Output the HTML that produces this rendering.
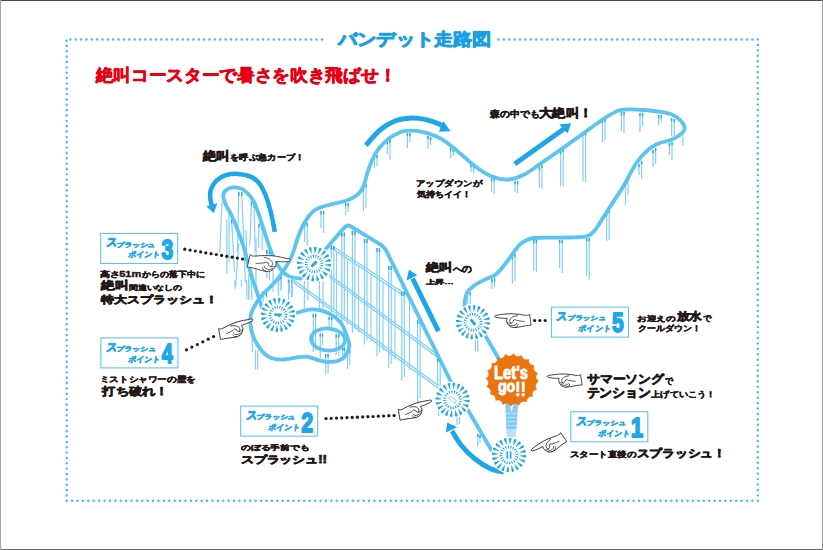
<!DOCTYPE html>
<html lang="ja"><head><meta charset="utf-8"><title>バンデット走路図</title>
<style>html,body{margin:0;padding:0;background:#fff}body{width:823px;height:550px;overflow:hidden;font-family:"Liberation Sans",sans-serif}svg{display:block}text{font-family:"Liberation Sans",sans-serif}</style></head><body>
<svg width="823" height="550" viewBox="0 0 823 550">
<rect width="823" height="550" fill="#fff"/>
<path d="M0 0.5H823" stroke="#4a4a4a" stroke-width="1.2"/><path d="M0 549.5H823" stroke="#666" stroke-width="1.2"/><path d="M0.5 0V550" stroke="#a8a8a8" stroke-width="1.1"/><path d="M822.5 0V550" stroke="#9a9a9a" stroke-width="1.1"/>
<g fill="none" stroke="#41b6ec" stroke-width="2.4" stroke-linecap="round"><path d="M70.40 39.50L322.20 39.50" stroke-dasharray="0 5.3511"/><path d="M498.40 39.50L758.10 39.50" stroke-dasharray="0 5.4042"/><path d="M757.80 44.90L757.80 501.10" stroke-dasharray="0 5.4274"/><path d="M752.40 500.80L66.40 500.80" stroke-dasharray="0 5.3992"/><path d="M66.70 40.60L66.70 495.70" stroke-dasharray="0 5.3506"/></g>
<path d="M304.6 224.0V242.0M307.2 223.0V246.0" stroke="#86d0f6" stroke-width="1.2" fill="none"/>
<path d="M304.6 224.0v3.2M307.2 223.0v3.2" stroke="#2fa9e6" stroke-width="1.4" fill="none"/>
<path d="M321.0 211.0V228.0M323.6 211.0V233.0" stroke="#86d0f6" stroke-width="1.2" fill="none"/>
<path d="M321.0 211.0v3.2M323.6 211.0v3.2" stroke="#2fa9e6" stroke-width="1.4" fill="none"/>
<path d="M345.6 203.0V215.0M348.2 203.0V212.0" stroke="#86d0f6" stroke-width="1.2" fill="none"/>
<path d="M345.6 203.0v3.2M348.2 203.0v3.2" stroke="#2fa9e6" stroke-width="1.4" fill="none"/>
<path d="M363.4 188.0V211.0M366.0 184.0V208.0" stroke="#86d0f6" stroke-width="1.2" fill="none"/>
<path d="M363.4 188.0v3.2M366.0 184.0v3.2" stroke="#2fa9e6" stroke-width="1.4" fill="none"/>
<path d="M374.4 156.0V168.0M377.0 155.0V166.0" stroke="#86d0f6" stroke-width="1.2" fill="none"/>
<path d="M374.4 156.0v3.2M377.0 155.0v3.2" stroke="#2fa9e6" stroke-width="1.4" fill="none"/>
<path d="M387.4 141.0V154.0M390.0 140.0V160.0" stroke="#86d0f6" stroke-width="1.2" fill="none"/>
<path d="M387.4 141.0v3.2M390.0 140.0v3.2" stroke="#2fa9e6" stroke-width="1.4" fill="none"/>
<path d="M407.4 133.0V148.0M410.0 133.0V142.0" stroke="#86d0f6" stroke-width="1.2" fill="none"/>
<path d="M407.4 133.0v3.2M410.0 133.0v3.2" stroke="#2fa9e6" stroke-width="1.4" fill="none"/>
<path d="M428.0 136.0V149.0M430.6 137.0V145.0" stroke="#86d0f6" stroke-width="1.2" fill="none"/>
<path d="M428.0 136.0v3.2M430.6 137.0v3.2" stroke="#2fa9e6" stroke-width="1.4" fill="none"/>
<path d="M450.6 148.0V158.0M453.2 149.0V156.0" stroke="#86d0f6" stroke-width="1.2" fill="none"/>
<path d="M450.6 148.0v3.2M453.2 149.0v3.2" stroke="#2fa9e6" stroke-width="1.4" fill="none"/>
<path d="M471.0 164.0V172.0M473.6 165.0V174.0" stroke="#86d0f6" stroke-width="1.2" fill="none"/>
<path d="M471.0 164.0v3.2M473.6 165.0v3.2" stroke="#2fa9e6" stroke-width="1.4" fill="none"/>
<path d="M491.6 178.0V192.0M494.2 178.0V194.0" stroke="#86d0f6" stroke-width="1.2" fill="none"/>
<path d="M491.6 178.0v3.2M494.2 178.0v3.2" stroke="#2fa9e6" stroke-width="1.4" fill="none"/>
<path d="M515.0 181.0V192.0M517.6 181.0V193.0" stroke="#86d0f6" stroke-width="1.2" fill="none"/>
<path d="M515.0 181.0v3.2M517.6 181.0v3.2" stroke="#2fa9e6" stroke-width="1.4" fill="none"/>
<path d="M539.4 167.0V188.0M542.0 165.0V189.0" stroke="#86d0f6" stroke-width="1.2" fill="none"/>
<path d="M539.4 167.0v3.2M542.0 165.0v3.2" stroke="#2fa9e6" stroke-width="1.4" fill="none"/>
<path d="M560.6 151.0V186.0M563.2 149.0V186.6" stroke="#86d0f6" stroke-width="1.2" fill="none"/>
<path d="M560.6 151.0v3.2M563.2 149.0v3.2" stroke="#2fa9e6" stroke-width="1.4" fill="none"/>
<path d="M583.0 133.0V181.4M585.6 132.0V182.0" stroke="#86d0f6" stroke-width="1.2" fill="none"/>
<path d="M583.0 133.0v3.2M585.6 132.0v3.2" stroke="#2fa9e6" stroke-width="1.4" fill="none"/>
<path d="M602.4 120.0V142.0M605.0 119.0V140.0" stroke="#86d0f6" stroke-width="1.2" fill="none"/>
<path d="M602.4 120.0v3.2M605.0 119.0v3.2" stroke="#2fa9e6" stroke-width="1.4" fill="none"/>
<path d="M621.4 112.0V131.0M624.0 112.0V133.0" stroke="#86d0f6" stroke-width="1.2" fill="none"/>
<path d="M621.4 112.0v3.2M624.0 112.0v3.2" stroke="#2fa9e6" stroke-width="1.4" fill="none"/>
<path d="M640.0 113.0V132.0M642.6 113.0V126.0" stroke="#86d0f6" stroke-width="1.2" fill="none"/>
<path d="M640.0 113.0v3.2M642.6 113.0v3.2" stroke="#2fa9e6" stroke-width="1.4" fill="none"/>
<path d="M658.6 115.0V125.0M661.2 115.0V122.0" stroke="#86d0f6" stroke-width="1.2" fill="none"/>
<path d="M658.6 115.0v3.2M661.2 115.0v3.2" stroke="#2fa9e6" stroke-width="1.4" fill="none"/>
<path d="M671.6 118.0V136.0M674.2 119.0V136.0" stroke="#86d0f6" stroke-width="1.2" fill="none"/>
<path d="M671.6 118.0v3.2M674.2 119.0v3.2" stroke="#2fa9e6" stroke-width="1.4" fill="none"/>
<path d="M669.4 143.0V155.0M672.0 142.0V160.0" stroke="#86d0f6" stroke-width="1.2" fill="none"/>
<path d="M669.4 143.0v3.2M672.0 142.0v3.2" stroke="#2fa9e6" stroke-width="1.4" fill="none"/>
<path d="M653.0 150.0V167.0M655.6 148.0V164.0" stroke="#86d0f6" stroke-width="1.2" fill="none"/>
<path d="M653.0 150.0v3.2M655.6 148.0v3.2" stroke="#2fa9e6" stroke-width="1.4" fill="none"/>
<path d="M639.0 164.0V175.0M641.6 161.0V179.0" stroke="#86d0f6" stroke-width="1.2" fill="none"/>
<path d="M639.0 164.0v3.2M641.6 161.0v3.2" stroke="#2fa9e6" stroke-width="1.4" fill="none"/>
<path d="M625.4 181.0V205.0M628.0 178.0V195.0" stroke="#86d0f6" stroke-width="1.2" fill="none"/>
<path d="M625.4 181.0v3.2M628.0 178.0v3.2" stroke="#2fa9e6" stroke-width="1.4" fill="none"/>
<path d="M606.6 213.0V241.0M609.2 210.0V240.0" stroke="#86d0f6" stroke-width="1.2" fill="none"/>
<path d="M606.6 213.0v3.2M609.2 210.0v3.2" stroke="#2fa9e6" stroke-width="1.4" fill="none"/>
<path d="M586.6 238.0V276.0M589.2 238.0V280.0" stroke="#86d0f6" stroke-width="1.2" fill="none"/>
<path d="M586.6 238.0v3.2M589.2 238.0v3.2" stroke="#2fa9e6" stroke-width="1.4" fill="none"/>
<path d="M559.6 240.0V268.0M562.2 240.0V273.0" stroke="#86d0f6" stroke-width="1.2" fill="none"/>
<path d="M559.6 240.0v3.2M562.2 240.0v3.2" stroke="#2fa9e6" stroke-width="1.4" fill="none"/>
<path d="M533.8 240.0V271.0M536.4 240.0V272.0" stroke="#86d0f6" stroke-width="1.2" fill="none"/>
<path d="M533.8 240.0v3.2M536.4 240.0v3.2" stroke="#2fa9e6" stroke-width="1.4" fill="none"/>
<path d="M512.4 256.0V283.0M515.0 254.0V281.0" stroke="#86d0f6" stroke-width="1.2" fill="none"/>
<path d="M512.4 256.0v3.2M515.0 254.0v3.2" stroke="#2fa9e6" stroke-width="1.4" fill="none"/>
<path d="M492.0 279.0V289.0M494.6 278.0V287.0" stroke="#86d0f6" stroke-width="1.2" fill="none"/>
<path d="M492.0 279.0v3.2M494.6 278.0v3.2" stroke="#2fa9e6" stroke-width="1.4" fill="none"/>
<path d="M467.6 290.0V304.0M470.2 292.0V304.0" stroke="#86d0f6" stroke-width="1.2" fill="none"/>
<path d="M467.6 290.0v3.2M470.2 292.0v3.2" stroke="#2fa9e6" stroke-width="1.4" fill="none"/>
<path d="M683.0 135.0L683.0 146.0" stroke="#86d0f6" stroke-width="1.2" fill="none"/>
<path d="M222.0 201.8L219.8 252.0" stroke="#86d0f6" stroke-width="1.2" fill="none"/>
<path d="M226.8 219.3L226.8 273.9" stroke="#86d0f6" stroke-width="1.2" fill="none"/>
<path d="M231.6 219.3L234.5 271.7" stroke="#86d0f6" stroke-width="1.2" fill="none"/>
<path d="M238.8 192.0L237.3 252.0" stroke="#86d0f6" stroke-width="1.2" fill="none"/>
<path d="M241.7 192.0L245.4 282.6" stroke="#86d0f6" stroke-width="1.2" fill="none"/>
<path d="M238.8 243.3L235.6 287.0" stroke="#86d0f6" stroke-width="1.2" fill="none"/>
<path d="M251.5 201.8L249.8 245.5" stroke="#86d0f6" stroke-width="1.2" fill="none"/>
<path d="M254.1 204.0L255.2 252.0" stroke="#86d0f6" stroke-width="1.2" fill="none"/>
<path d="M259.1 223.7L258.5 247.7" stroke="#86d0f6" stroke-width="1.2" fill="none"/>
<path d="M262.2 225.9L262.2 249.9" stroke="#86d0f6" stroke-width="1.2" fill="none"/>
<path d="M266.8 249.9L266.8 278.3" stroke="#86d0f6" stroke-width="1.2" fill="none"/>
<path d="M269.4 249.9L269.4 280.4" stroke="#86d0f6" stroke-width="1.2" fill="none"/>
<path d="M248.7 273.9L248.7 300.0" stroke="#86d0f6" stroke-width="1.2" fill="none"/>
<path d="M250.9 276.0L251.9 300.0" stroke="#86d0f6" stroke-width="1.2" fill="none"/>
<path d="M229.0 210.0L229.0 262.0" stroke="#86d0f6" stroke-width="1.2" fill="none"/>
<path d="M246.0 230.0L247.0 268.0" stroke="#86d0f6" stroke-width="1.2" fill="none"/>
<path d="M256.0 238.0L256.0 286.0" stroke="#86d0f6" stroke-width="1.2" fill="none"/>
<path d="M273.0 262.0L273.0 292.0" stroke="#86d0f6" stroke-width="1.2" fill="none"/>
<path d="M231.6 219.3L231.6 223.3" stroke="#2fa9e6" stroke-width="1.4" fill="none"/>
<path d="M238.8 192.0L238.8 196.0" stroke="#2fa9e6" stroke-width="1.4" fill="none"/>
<path d="M241.7 192.0L241.7 196.0" stroke="#2fa9e6" stroke-width="1.4" fill="none"/>
<path d="M251.5 201.8L251.5 205.8" stroke="#2fa9e6" stroke-width="1.4" fill="none"/>
<path d="M254.1 204.0L254.1 208.0" stroke="#2fa9e6" stroke-width="1.4" fill="none"/>
<path d="M259.1 223.7L259.1 227.7" stroke="#2fa9e6" stroke-width="1.4" fill="none"/>
<path d="M262.2 225.9L262.2 229.9" stroke="#2fa9e6" stroke-width="1.4" fill="none"/>
<path d="M266.8 249.9L266.8 253.9" stroke="#2fa9e6" stroke-width="1.4" fill="none"/>
<path d="M269.4 249.9L269.4 253.9" stroke="#2fa9e6" stroke-width="1.4" fill="none"/>
<path d="M278.6 278.0V295.5M281.0 276.6V289.7" stroke="#86d0f6" stroke-width="1.2" fill="none"/>
<path d="M278.6 278.0v3.2M281.0 276.6v3.2" stroke="#2fa9e6" stroke-width="1.4" fill="none"/>
<path d="M288.5 279.5V300.0M291.7 279.5V297.0" stroke="#86d0f6" stroke-width="1.2" fill="none"/>
<path d="M288.5 279.5v3.2M291.7 279.5v3.2" stroke="#2fa9e6" stroke-width="1.4" fill="none"/>
<path d="M304.4 281.0V308.6M307.8 281.0V300.6" stroke="#86d0f6" stroke-width="1.2" fill="none"/>
<path d="M319.4 281.0V308.6M323.0 281.0V308.6" stroke="#86d0f6" stroke-width="1.2" fill="none"/>
<path d="M252.3 325.8V352.0M255.5 349.8V369.4" stroke="#86d0f6" stroke-width="1.2" fill="none"/>
<path d="M257.7 349.8L257.7 369.4" stroke="#86d0f6" stroke-width="1.2" fill="none"/>
<path d="M313.3 313.8V352.0M315.6 313.8V350.0" stroke="#86d0f6" stroke-width="1.2" fill="none"/>
<path d="M313.3 313.8v3.2M315.6 313.8v3.2" stroke="#2fa9e6" stroke-width="1.4" fill="none"/>
<path d="M329.2 317.0V327.0M331.8 317.0V327.0" stroke="#86d0f6" stroke-width="1.2" fill="none"/>
<path d="M329.2 317.0v3.2M331.8 317.0v3.2" stroke="#2fa9e6" stroke-width="1.4" fill="none"/>
<path d="M320.3 333.4V357.4M322.5 333.4V345.4" stroke="#86d0f6" stroke-width="1.2" fill="none"/>
<path d="M320.3 333.4v3.2M322.5 333.4v3.2" stroke="#2fa9e6" stroke-width="1.4" fill="none"/>
<path d="M336.2 334.5V355.0M338.8 334.5V356.0" stroke="#86d0f6" stroke-width="1.2" fill="none"/>
<path d="M336.2 334.5v3.2M338.8 334.5v3.2" stroke="#2fa9e6" stroke-width="1.4" fill="none"/>
<path d="M325.7 354.0V373.8M328.1 354.0V373.8" stroke="#86d0f6" stroke-width="1.2" fill="none"/>
<path d="M325.7 354.0v3.2M328.1 354.0v3.2" stroke="#2fa9e6" stroke-width="1.4" fill="none"/>
<path d="M342.7 347.6V356.0M344.5 347.6V355.0" stroke="#86d0f6" stroke-width="1.2" fill="none"/>
<path d="M342.7 347.6v3.2M344.5 347.6v3.2" stroke="#2fa9e6" stroke-width="1.4" fill="none"/>
<path d="M347.5 352.0V369.0M349.7 349.8V365.0" stroke="#86d0f6" stroke-width="1.2" fill="none"/>
<path d="M347.5 352.0v3.2M349.7 349.8v3.2" stroke="#2fa9e6" stroke-width="1.4" fill="none"/>
<path d="M234.8 280.0V288.7M241.3 280.0V286.5" stroke="#86d0f6" stroke-width="1.2" fill="none"/>
<path d="M246.8 280.0V299.6M248.8 280.0V299.6" stroke="#86d0f6" stroke-width="1.2" fill="none"/>
<path d="M263.2 291.0V301.8M266.4 293.0V298.5" stroke="#86d0f6" stroke-width="1.2" fill="none"/>
<path d="M263.2 291.0v3.2M266.4 293.0v3.2" stroke="#2fa9e6" stroke-width="1.4" fill="none"/>
<path d="M278.4 280.0V296.4M281.2 280.0V291.0" stroke="#86d0f6" stroke-width="1.2" fill="none"/>
<path d="M289.4 280.0V293.0M292.2 280.0V297.4" stroke="#86d0f6" stroke-width="1.2" fill="none"/>
<path d="M331.3 245.3L405.5 294.3M331.3 247.9L405.5 296.9" stroke="#7ccdf5" stroke-width="1.2" fill="none"/>
<path d="M329.0 274.4L438.0 355.1M329.0 277.0L438.0 357.7" stroke="#7ccdf5" stroke-width="1.2" fill="none"/>
<path d="M293.0 279.5L439.0 386.1M293.0 282.1L439.0 388.7" stroke="#7ccdf5" stroke-width="1.2" fill="none"/>
<path d="M331.3 246.0V312.3M333.8 246.0V308.3" stroke="#86d0f6" stroke-width="1.2" fill="none"/>
<path d="M331.3 246.0v4.0M333.8 246.0v4.0" stroke="#2fa9e6" stroke-width="1.4" fill="none"/>
<path d="M341.8 232.5V322.5M344.3 232.5V318.5" stroke="#86d0f6" stroke-width="1.2" fill="none"/>
<path d="M341.8 232.5v4.0M344.3 232.5v4.0" stroke="#2fa9e6" stroke-width="1.4" fill="none"/>
<path d="M352.4 230.7V332.8M354.9 230.7V328.8" stroke="#86d0f6" stroke-width="1.2" fill="none"/>
<path d="M352.4 230.7v4.0M354.9 230.7v4.0" stroke="#2fa9e6" stroke-width="1.4" fill="none"/>
<path d="M364.5 239.0V344.5M367.0 239.0V340.5" stroke="#86d0f6" stroke-width="1.2" fill="none"/>
<path d="M364.5 239.0v4.0M367.0 239.0v4.0" stroke="#2fa9e6" stroke-width="1.4" fill="none"/>
<path d="M377.0 248.0V356.6M379.5 248.0V352.6" stroke="#86d0f6" stroke-width="1.2" fill="none"/>
<path d="M377.0 248.0v4.0M379.5 248.0v4.0" stroke="#2fa9e6" stroke-width="1.4" fill="none"/>
<path d="M388.7 266.0V368.0M391.2 266.0V364.0" stroke="#86d0f6" stroke-width="1.2" fill="none"/>
<path d="M388.7 266.0v4.0M391.2 266.0v4.0" stroke="#2fa9e6" stroke-width="1.4" fill="none"/>
<path d="M401.8 291.6V380.7M404.3 291.6V376.7" stroke="#86d0f6" stroke-width="1.2" fill="none"/>
<path d="M401.8 291.6v4.0M404.3 291.6v4.0" stroke="#2fa9e6" stroke-width="1.4" fill="none"/>
<path d="M417.6 320.0V402.0M420.1 320.0V398.0" stroke="#86d0f6" stroke-width="1.2" fill="none"/>
<path d="M417.6 320.0v4.0M420.1 320.0v4.0" stroke="#2fa9e6" stroke-width="1.4" fill="none"/>
<path d="M336.5 250.7L336.5 316.2" stroke="#86d0f6" stroke-width="1.2" fill="none"/>
<path d="M347.5 258.0L347.5 324.4" stroke="#86d0f6" stroke-width="1.2" fill="none"/>
<path d="M358.5 265.3L358.5 332.5" stroke="#86d0f6" stroke-width="1.2" fill="none"/>
<path d="M371.0 273.5L371.0 341.7" stroke="#86d0f6" stroke-width="1.2" fill="none"/>
<path d="M383.0 281.4L383.0 350.6" stroke="#86d0f6" stroke-width="1.2" fill="none"/>
<path d="M395.0 289.3L395.0 359.5" stroke="#86d0f6" stroke-width="1.2" fill="none"/>
<path d="M409.5 298.9L409.5 370.2" stroke="#86d0f6" stroke-width="1.2" fill="none"/>
<path d="M437.6 358.0V386.0M440.2 358.0V386.0" stroke="#86d0f6" stroke-width="1.2" fill="none"/>
<path d="M437.6 358.0v4.0M440.2 358.0v4.0" stroke="#2fa9e6" stroke-width="1.4" fill="none"/>
<path d="M457.0 418.0V425.0M459.4 417.0V424.0" stroke="#86d0f6" stroke-width="1.2" fill="none"/>
<path d="M438.6 409.0L438.6 416.0" stroke="#86d0f6" stroke-width="1.2" fill="none"/>
<path d="M477.8 434.0V446.0M480.0 435.0V443.0" stroke="#86d0f6" stroke-width="1.2" fill="none"/>
<path d="M477.8 434.0v3.0M480.0 435.0v3.0" stroke="#2fa9e6" stroke-width="1.4" fill="none"/>
<path d="M475.4 340.0V351.5M477.8 340.0V351.5" stroke="#86d0f6" stroke-width="1.2" fill="none"/>
<path d="M297.0 357.4C294.4 357.8 286.2 359.6 281.7 359.6C277.1 359.6 273.1 359.0 269.7 357.4C266.2 355.8 263.7 353.2 261.0 349.8C258.3 346.4 255.1 341.4 253.3 336.7C251.5 332.0 250.3 325.8 250.1 321.4C249.9 317.0 250.5 314.7 252.3 310.5C254.1 306.3 257.4 300.9 261.0 296.4C264.6 291.9 270.2 287.7 274.0 283.3C277.8 278.9 281.0 274.6 284.0 270.0C287.0 265.4 289.6 261.0 291.8 256.0C294.0 251.0 295.5 244.2 297.0 240.0C298.5 235.8 299.3 233.5 300.6 230.5C301.9 227.5 303.5 224.6 305.0 222.0C306.5 219.4 307.8 217.2 309.5 215.2C311.2 213.2 313.0 211.4 315.0 210.0C317.0 208.6 319.2 207.8 321.5 207.0C323.8 206.2 325.1 206.0 329.0 205.0C332.9 204.0 341.2 202.1 345.0 201.0C348.8 199.9 350.0 199.3 352.0 198.3C354.0 197.3 355.6 196.1 357.0 195.0C358.4 193.9 359.5 192.8 360.5 191.5C361.5 190.2 362.2 188.8 363.0 187.0C363.8 185.2 364.5 183.2 365.2 181.0C365.9 178.8 366.2 176.5 367.0 174.0C367.8 171.5 368.8 168.7 369.8 166.0C370.8 163.3 371.9 160.4 373.0 158.0C374.1 155.6 375.4 153.5 376.7 151.5C378.0 149.5 379.5 147.7 381.0 146.0C382.5 144.3 384.0 142.7 385.7 141.2C387.4 139.7 389.0 138.3 391.0 137.0C393.0 135.7 395.3 134.4 397.7 133.4C400.1 132.4 401.4 131.2 405.4 130.9C409.4 130.6 415.9 130.5 421.8 131.8C427.7 133.1 435.0 135.4 440.9 138.6C446.8 141.8 451.3 146.1 457.2 150.9C463.1 155.7 470.4 162.9 476.3 167.2C482.2 171.5 487.2 174.8 492.7 176.8C498.1 178.9 503.6 180.0 509.0 179.5C514.5 179.0 519.9 176.8 525.4 174.0C530.9 171.2 535.6 167.0 541.7 162.8C547.8 158.6 554.8 153.8 561.8 148.9C568.8 144.0 576.8 138.1 583.6 133.2C590.4 128.3 597.2 123.1 602.7 119.5C608.2 115.9 612.8 113.1 616.3 111.4C619.8 109.8 619.5 109.8 624.0 109.6C628.5 109.4 636.7 109.5 643.6 110.0C650.5 110.5 660.0 111.6 665.4 112.7C670.8 113.8 673.3 115.0 676.3 116.8C679.2 118.6 681.7 121.6 683.1 123.6C684.5 125.6 685.0 127.2 684.5 129.0C684.0 130.8 682.7 132.7 680.4 134.5C678.1 136.3 674.8 138.4 670.9 140.0C667.0 141.6 661.3 142.1 657.2 144.0C653.1 145.9 649.9 148.0 646.3 151.4C642.7 154.8 639.0 159.0 635.4 164.5C631.8 170.0 627.7 179.0 624.5 184.5C621.3 190.0 618.8 193.3 616.0 197.6C613.2 201.8 610.7 205.8 608.0 210.0C605.3 214.2 601.9 219.6 600.0 222.6C598.1 225.6 597.6 226.4 596.5 228.0C595.4 229.6 594.4 230.9 593.3 232.0C592.2 233.1 591.3 234.1 590.0 234.8C588.7 235.6 587.2 236.1 585.5 236.5C583.8 236.9 582.6 237.0 580.0 237.2C577.4 237.4 573.3 237.4 570.0 237.5C566.7 237.6 564.2 237.6 560.0 237.6C555.8 237.6 549.3 237.6 545.0 237.7C540.7 237.8 537.0 237.6 534.0 238.0C531.0 238.4 529.3 238.8 526.8 240.0C524.3 241.2 521.6 242.7 519.0 245.4C516.4 248.1 513.6 252.7 510.9 256.3C508.2 259.9 505.4 264.0 502.7 267.2C500.0 270.4 497.4 273.3 494.5 275.4C491.6 277.4 488.5 277.7 485.0 279.5C481.5 281.3 476.6 283.8 473.6 286.0C470.6 288.2 468.5 289.9 467.0 292.6C465.5 295.3 465.2 299.4 464.8 302.0C464.4 304.6 464.6 307.0 464.5 308.0" fill="none" stroke="#5cc3f2" stroke-width="3.8" stroke-linecap="round" stroke-linejoin="round"/>
<path d="M297.0 357.4C298.8 357.3 304.6 356.4 307.9 356.8C311.2 357.2 313.3 358.8 316.6 359.6C319.9 360.4 323.9 361.6 327.5 361.8C331.1 362.0 335.3 361.8 338.4 360.7C341.5 359.6 344.2 357.8 346.0 355.2C347.8 352.6 349.1 348.5 349.3 345.4C349.5 342.3 348.6 340.5 347.1 336.7C345.7 332.9 343.9 326.5 340.6 322.5C337.3 318.5 332.2 314.9 327.5 312.7C322.8 310.5 317.3 309.4 312.2 309.4C307.1 309.4 299.5 312.1 297.0 312.7" fill="none" stroke="#5cc3f2" stroke-width="3.8" stroke-linecap="round" stroke-linejoin="round"/>
<ellipse cx="328" cy="339.5" rx="17" ry="11" fill="none" stroke="#5cc3f2" stroke-width="3.8" transform="rotate(4 328 339.5)"/>
<path d="M262.0 308.0C261.2 305.6 259.2 299.2 257.4 293.5C255.5 287.8 253.3 281.9 250.9 273.9C248.5 265.9 246.1 254.6 243.2 245.5C240.3 236.4 236.3 226.2 233.4 219.3C230.5 212.4 227.2 207.9 225.5 204.0C223.8 200.1 223.3 198.2 223.3 196.0C223.3 193.8 223.8 191.9 225.5 190.5C227.2 189.1 230.5 187.6 233.4 187.4C236.3 187.2 239.6 187.1 243.0 189.5C246.4 191.9 250.9 196.1 254.0 201.8C257.1 207.5 259.1 215.7 261.8 223.7C264.6 231.7 267.6 242.6 270.5 249.9C273.4 257.2 276.6 263.4 279.2 267.5C281.8 271.6 283.7 272.8 286.0 274.5C288.3 276.2 290.5 276.8 293.0 277.5C295.5 278.2 299.7 278.3 301.0 278.5" fill="none" stroke="#5cc3f2" stroke-width="3.8" stroke-linecap="round" stroke-linejoin="round"/>
<path d="M318 258L344.6 227.3Q347.3 224.2 350.8 226.3L380.6 244.6Q384.6 247.2 386.6 251.4L452 384" fill="none" stroke="#5cc3f2" stroke-width="3.8" stroke-linecap="round" stroke-linejoin="round"/>
<path d="M452 399L467 408.5L492 451L508 456" fill="none" stroke="#5cc3f2" stroke-width="3.8" stroke-linecap="round" stroke-linejoin="round"/>
<path d="M473 322L485 335L500 361L508 376" fill="none" stroke="#5cc3f2" stroke-width="3.8" stroke-linecap="round" stroke-linejoin="round"/>
<path d="M274.8 231.8C274.2 228.6 272.6 218.8 271.0 212.7C269.4 206.6 267.6 200.0 265.5 195.0C263.4 190.0 261.2 185.8 258.7 182.7C256.2 179.6 253.9 178.1 250.5 176.6C247.1 175.1 242.3 174.1 238.2 173.9C234.1 173.7 229.5 174.1 225.9 175.2C222.3 176.3 218.9 178.3 216.4 180.7C213.9 183.1 211.9 186.8 210.9 189.6C209.9 192.4 210.0 195.0 210.2 197.7C210.3 200.3 211.5 204.2 211.8 205.5" fill="none" stroke="#1ea7e8" stroke-width="4.5"/>
<path d="M206.3 206.2L217.4 203.3L213.8 213.2Z" fill="#1ea7e8"/>
<path d="M365.9 145.4C368.2 142.8 375.1 134.1 380.0 130.0C384.9 125.9 389.8 123.0 395.0 121.0C400.2 119.0 406.0 118.3 411.0 118.0C416.0 117.7 420.3 118.4 425.0 119.4C429.7 120.4 436.0 122.8 439.0 124.0C442.0 125.2 442.3 125.9 443.0 126.3" fill="none" stroke="#1ea7e8" stroke-width="4.9"/>
<path d="M450.6 131.2L443.2 121.0L439.0 131.8Z" fill="#1ea7e8"/>
<path d="M514.7 164.0C523.0 158.1 556.2 134.4 564.5 128.5" fill="none" stroke="#1ea7e8" stroke-width="4.9"/>
<path d="M571.0 123.2L559.2 124.6L567.8 133.4Z" fill="#1ea7e8"/>
<path d="M438.4 331.1C434.1 322.3 416.9 287.3 412.6 278.5" fill="none" stroke="#1ea7e8" stroke-width="4.9"/>
<path d="M408.9 269.5L406.6 280.6L417.3 275.3Z" fill="#1ea7e8"/>
<path d="M504.0 472.0C501.8 471.5 495.8 471.2 491.0 469.0C486.2 466.8 480.0 463.0 475.0 459.0C470.0 455.0 464.8 449.7 461.0 445.0C457.2 440.3 453.5 433.3 452.0 431.0" fill="none" stroke="#1ea7e8" stroke-width="4.9"/>
<path d="M447.4 422.4L445.8 432.4L457.2 427.2Z" fill="#1ea7e8"/>
<path d="M505.4 403L518 403L516.6 429L506.2 429Z" fill="#86cdf4"/>
<path d="M506.2 429L516.6 429L516 437L506.6 437Z" fill="#b9e2f9"/>
<path d="M505.7 413.5h12M505.8 417.5h11.7M505.9 421.5h11.4M506 425.5h11.2" stroke="#b9e2f9" stroke-width="0.9"/>
<path d="M509.6 403L511.7 412.5L513.8 403Z" fill="#fff"/>
<g transform="translate(314.0 264.0)">
<circle r="18.3" fill="#fff"/>
<path d="M9.97 0.80L16.05 -0.02A1.30 1.30 0 0 1 15.84 2.57ZM9.23 3.84L15.27 4.94A1.30 1.30 0 0 1 14.27 7.34ZM7.59 6.51L13.00 9.42A1.30 1.30 0 0 1 11.31 11.40ZM5.21 8.53L9.45 12.98A1.30 1.30 0 0 1 7.23 14.33ZM2.32 9.73L4.98 15.26A1.30 1.30 0 0 1 2.45 15.86ZM-0.80 9.97L0.02 16.05A1.30 1.30 0 0 1 -2.57 15.84ZM-3.84 9.23L-4.94 15.27A1.30 1.30 0 0 1 -7.34 14.27ZM-6.51 7.59L-9.42 13.00A1.30 1.30 0 0 1 -11.40 11.31ZM-8.53 5.21L-12.98 9.45A1.30 1.30 0 0 1 -14.33 7.23ZM-9.73 2.32L-15.26 4.98A1.30 1.30 0 0 1 -15.86 2.45ZM-9.97 -0.80L-16.05 0.02A1.30 1.30 0 0 1 -15.84 -2.57ZM-9.23 -3.84L-15.27 -4.94A1.30 1.30 0 0 1 -14.27 -7.34ZM-7.59 -6.51L-13.00 -9.42A1.30 1.30 0 0 1 -11.31 -11.40ZM-5.21 -8.53L-9.45 -12.98A1.30 1.30 0 0 1 -7.23 -14.33ZM-2.32 -9.73L-4.98 -15.26A1.30 1.30 0 0 1 -2.45 -15.86ZM0.80 -9.97L-0.02 -16.05A1.30 1.30 0 0 1 2.57 -15.84ZM3.84 -9.23L4.94 -15.27A1.30 1.30 0 0 1 7.34 -14.27ZM6.51 -7.59L9.42 -13.00A1.30 1.30 0 0 1 11.40 -11.31ZM8.53 -5.21L12.98 -9.45A1.30 1.30 0 0 1 14.33 -7.23ZM9.73 -2.32L15.26 -4.98A1.30 1.30 0 0 1 15.86 -2.45Z" fill="#1ea7e8"/>
<path d="M5.44 1.32L8.63 1.34A0.72 0.72 0 0 1 8.29 2.74ZM4.77 2.93L7.79 3.94A0.72 0.72 0 0 1 7.03 5.17ZM3.63 4.26L6.19 6.16A0.72 0.72 0 0 1 5.09 7.09ZM2.14 5.18L3.98 7.77A0.72 0.72 0 0 1 2.65 8.32ZM0.43 5.58L1.39 8.62A0.72 0.72 0 0 1 -0.05 8.73ZM-1.32 5.44L-1.34 8.63A0.72 0.72 0 0 1 -2.74 8.29ZM-2.93 4.77L-3.94 7.79A0.72 0.72 0 0 1 -5.17 7.03ZM-4.26 3.63L-6.16 6.19A0.72 0.72 0 0 1 -7.09 5.09ZM-5.18 2.14L-7.77 3.98A0.72 0.72 0 0 1 -8.32 2.65ZM-5.58 0.43L-8.62 1.39A0.72 0.72 0 0 1 -8.73 -0.05ZM-5.44 -1.32L-8.63 -1.34A0.72 0.72 0 0 1 -8.29 -2.74ZM-4.77 -2.93L-7.79 -3.94A0.72 0.72 0 0 1 -7.03 -5.17ZM-3.63 -4.26L-6.19 -6.16A0.72 0.72 0 0 1 -5.09 -7.09ZM-2.14 -5.18L-3.98 -7.77A0.72 0.72 0 0 1 -2.65 -8.32ZM-0.43 -5.58L-1.39 -8.62A0.72 0.72 0 0 1 0.05 -8.73ZM1.32 -5.44L1.34 -8.63A0.72 0.72 0 0 1 2.74 -8.29ZM2.93 -4.77L3.94 -7.79A0.72 0.72 0 0 1 5.17 -7.03ZM4.26 -3.63L6.16 -6.19A0.72 0.72 0 0 1 7.09 -5.09ZM5.18 -2.14L7.77 -3.98A0.72 0.72 0 0 1 8.32 -2.65ZM5.58 -0.43L8.62 -1.39A0.72 0.72 0 0 1 8.73 0.05Z" fill="#1ea7e8"/>
<rect x="-3.6" y="-1.4" width="7.2" height="2.8" fill="#1ea7e8" transform="rotate(-45)"/>
</g>
<g transform="translate(278.0 315.0)">
<circle r="18.3" fill="#fff"/>
<path d="M9.97 0.80L16.05 -0.02A1.30 1.30 0 0 1 15.84 2.57ZM9.23 3.84L15.27 4.94A1.30 1.30 0 0 1 14.27 7.34ZM7.59 6.51L13.00 9.42A1.30 1.30 0 0 1 11.31 11.40ZM5.21 8.53L9.45 12.98A1.30 1.30 0 0 1 7.23 14.33ZM2.32 9.73L4.98 15.26A1.30 1.30 0 0 1 2.45 15.86ZM-0.80 9.97L0.02 16.05A1.30 1.30 0 0 1 -2.57 15.84ZM-3.84 9.23L-4.94 15.27A1.30 1.30 0 0 1 -7.34 14.27ZM-6.51 7.59L-9.42 13.00A1.30 1.30 0 0 1 -11.40 11.31ZM-8.53 5.21L-12.98 9.45A1.30 1.30 0 0 1 -14.33 7.23ZM-9.73 2.32L-15.26 4.98A1.30 1.30 0 0 1 -15.86 2.45ZM-9.97 -0.80L-16.05 0.02A1.30 1.30 0 0 1 -15.84 -2.57ZM-9.23 -3.84L-15.27 -4.94A1.30 1.30 0 0 1 -14.27 -7.34ZM-7.59 -6.51L-13.00 -9.42A1.30 1.30 0 0 1 -11.31 -11.40ZM-5.21 -8.53L-9.45 -12.98A1.30 1.30 0 0 1 -7.23 -14.33ZM-2.32 -9.73L-4.98 -15.26A1.30 1.30 0 0 1 -2.45 -15.86ZM0.80 -9.97L-0.02 -16.05A1.30 1.30 0 0 1 2.57 -15.84ZM3.84 -9.23L4.94 -15.27A1.30 1.30 0 0 1 7.34 -14.27ZM6.51 -7.59L9.42 -13.00A1.30 1.30 0 0 1 11.40 -11.31ZM8.53 -5.21L12.98 -9.45A1.30 1.30 0 0 1 14.33 -7.23ZM9.73 -2.32L15.26 -4.98A1.30 1.30 0 0 1 15.86 -2.45Z" fill="#1ea7e8"/>
<path d="M5.44 1.32L8.63 1.34A0.72 0.72 0 0 1 8.29 2.74ZM4.77 2.93L7.79 3.94A0.72 0.72 0 0 1 7.03 5.17ZM3.63 4.26L6.19 6.16A0.72 0.72 0 0 1 5.09 7.09ZM2.14 5.18L3.98 7.77A0.72 0.72 0 0 1 2.65 8.32ZM0.43 5.58L1.39 8.62A0.72 0.72 0 0 1 -0.05 8.73ZM-1.32 5.44L-1.34 8.63A0.72 0.72 0 0 1 -2.74 8.29ZM-2.93 4.77L-3.94 7.79A0.72 0.72 0 0 1 -5.17 7.03ZM-4.26 3.63L-6.16 6.19A0.72 0.72 0 0 1 -7.09 5.09ZM-5.18 2.14L-7.77 3.98A0.72 0.72 0 0 1 -8.32 2.65ZM-5.58 0.43L-8.62 1.39A0.72 0.72 0 0 1 -8.73 -0.05ZM-5.44 -1.32L-8.63 -1.34A0.72 0.72 0 0 1 -8.29 -2.74ZM-4.77 -2.93L-7.79 -3.94A0.72 0.72 0 0 1 -7.03 -5.17ZM-3.63 -4.26L-6.19 -6.16A0.72 0.72 0 0 1 -5.09 -7.09ZM-2.14 -5.18L-3.98 -7.77A0.72 0.72 0 0 1 -2.65 -8.32ZM-0.43 -5.58L-1.39 -8.62A0.72 0.72 0 0 1 0.05 -8.73ZM1.32 -5.44L1.34 -8.63A0.72 0.72 0 0 1 2.74 -8.29ZM2.93 -4.77L3.94 -7.79A0.72 0.72 0 0 1 5.17 -7.03ZM4.26 -3.63L6.16 -6.19A0.72 0.72 0 0 1 7.09 -5.09ZM5.18 -2.14L7.77 -3.98A0.72 0.72 0 0 1 8.32 -2.65ZM5.58 -0.43L8.62 -1.39A0.72 0.72 0 0 1 8.73 0.05Z" fill="#1ea7e8"/>
<path d="M-3.8 -1.6h7.6v2.4h-1.6v1.2h-2v-1.2h-4z" fill="#1ea7e8"/>
</g>
<g transform="translate(452.6 399.8)">
<circle r="18.3" fill="#fff"/>
<path d="M9.97 0.80L16.05 -0.02A1.30 1.30 0 0 1 15.84 2.57ZM9.23 3.84L15.27 4.94A1.30 1.30 0 0 1 14.27 7.34ZM7.59 6.51L13.00 9.42A1.30 1.30 0 0 1 11.31 11.40ZM5.21 8.53L9.45 12.98A1.30 1.30 0 0 1 7.23 14.33ZM2.32 9.73L4.98 15.26A1.30 1.30 0 0 1 2.45 15.86ZM-0.80 9.97L0.02 16.05A1.30 1.30 0 0 1 -2.57 15.84ZM-3.84 9.23L-4.94 15.27A1.30 1.30 0 0 1 -7.34 14.27ZM-6.51 7.59L-9.42 13.00A1.30 1.30 0 0 1 -11.40 11.31ZM-8.53 5.21L-12.98 9.45A1.30 1.30 0 0 1 -14.33 7.23ZM-9.73 2.32L-15.26 4.98A1.30 1.30 0 0 1 -15.86 2.45ZM-9.97 -0.80L-16.05 0.02A1.30 1.30 0 0 1 -15.84 -2.57ZM-9.23 -3.84L-15.27 -4.94A1.30 1.30 0 0 1 -14.27 -7.34ZM-7.59 -6.51L-13.00 -9.42A1.30 1.30 0 0 1 -11.31 -11.40ZM-5.21 -8.53L-9.45 -12.98A1.30 1.30 0 0 1 -7.23 -14.33ZM-2.32 -9.73L-4.98 -15.26A1.30 1.30 0 0 1 -2.45 -15.86ZM0.80 -9.97L-0.02 -16.05A1.30 1.30 0 0 1 2.57 -15.84ZM3.84 -9.23L4.94 -15.27A1.30 1.30 0 0 1 7.34 -14.27ZM6.51 -7.59L9.42 -13.00A1.30 1.30 0 0 1 11.40 -11.31ZM8.53 -5.21L12.98 -9.45A1.30 1.30 0 0 1 14.33 -7.23ZM9.73 -2.32L15.26 -4.98A1.30 1.30 0 0 1 15.86 -2.45Z" fill="#1ea7e8"/>
<path d="M5.44 1.32L8.63 1.34A0.72 0.72 0 0 1 8.29 2.74ZM4.77 2.93L7.79 3.94A0.72 0.72 0 0 1 7.03 5.17ZM3.63 4.26L6.19 6.16A0.72 0.72 0 0 1 5.09 7.09ZM2.14 5.18L3.98 7.77A0.72 0.72 0 0 1 2.65 8.32ZM0.43 5.58L1.39 8.62A0.72 0.72 0 0 1 -0.05 8.73ZM-1.32 5.44L-1.34 8.63A0.72 0.72 0 0 1 -2.74 8.29ZM-2.93 4.77L-3.94 7.79A0.72 0.72 0 0 1 -5.17 7.03ZM-4.26 3.63L-6.16 6.19A0.72 0.72 0 0 1 -7.09 5.09ZM-5.18 2.14L-7.77 3.98A0.72 0.72 0 0 1 -8.32 2.65ZM-5.58 0.43L-8.62 1.39A0.72 0.72 0 0 1 -8.73 -0.05ZM-5.44 -1.32L-8.63 -1.34A0.72 0.72 0 0 1 -8.29 -2.74ZM-4.77 -2.93L-7.79 -3.94A0.72 0.72 0 0 1 -7.03 -5.17ZM-3.63 -4.26L-6.19 -6.16A0.72 0.72 0 0 1 -5.09 -7.09ZM-2.14 -5.18L-3.98 -7.77A0.72 0.72 0 0 1 -2.65 -8.32ZM-0.43 -5.58L-1.39 -8.62A0.72 0.72 0 0 1 0.05 -8.73ZM1.32 -5.44L1.34 -8.63A0.72 0.72 0 0 1 2.74 -8.29ZM2.93 -4.77L3.94 -7.79A0.72 0.72 0 0 1 5.17 -7.03ZM4.26 -3.63L6.16 -6.19A0.72 0.72 0 0 1 7.09 -5.09ZM5.18 -2.14L7.77 -3.98A0.72 0.72 0 0 1 8.32 -2.65ZM5.58 -0.43L8.62 -1.39A0.72 0.72 0 0 1 8.73 0.05Z" fill="#1ea7e8"/>
<rect x="-3.8" y="-1.5" width="7.6" height="3" fill="#fff" stroke="#7ccdf5" stroke-width="0.8" transform="rotate(35)"/>
</g>
<g transform="translate(473.0 322.2)">
<circle r="18.3" fill="#fff"/>
<path d="M9.97 0.80L16.05 -0.02A1.30 1.30 0 0 1 15.84 2.57ZM9.23 3.84L15.27 4.94A1.30 1.30 0 0 1 14.27 7.34ZM7.59 6.51L13.00 9.42A1.30 1.30 0 0 1 11.31 11.40ZM5.21 8.53L9.45 12.98A1.30 1.30 0 0 1 7.23 14.33ZM2.32 9.73L4.98 15.26A1.30 1.30 0 0 1 2.45 15.86ZM-0.80 9.97L0.02 16.05A1.30 1.30 0 0 1 -2.57 15.84ZM-3.84 9.23L-4.94 15.27A1.30 1.30 0 0 1 -7.34 14.27ZM-6.51 7.59L-9.42 13.00A1.30 1.30 0 0 1 -11.40 11.31ZM-8.53 5.21L-12.98 9.45A1.30 1.30 0 0 1 -14.33 7.23ZM-9.73 2.32L-15.26 4.98A1.30 1.30 0 0 1 -15.86 2.45ZM-9.97 -0.80L-16.05 0.02A1.30 1.30 0 0 1 -15.84 -2.57ZM-9.23 -3.84L-15.27 -4.94A1.30 1.30 0 0 1 -14.27 -7.34ZM-7.59 -6.51L-13.00 -9.42A1.30 1.30 0 0 1 -11.31 -11.40ZM-5.21 -8.53L-9.45 -12.98A1.30 1.30 0 0 1 -7.23 -14.33ZM-2.32 -9.73L-4.98 -15.26A1.30 1.30 0 0 1 -2.45 -15.86ZM0.80 -9.97L-0.02 -16.05A1.30 1.30 0 0 1 2.57 -15.84ZM3.84 -9.23L4.94 -15.27A1.30 1.30 0 0 1 7.34 -14.27ZM6.51 -7.59L9.42 -13.00A1.30 1.30 0 0 1 11.40 -11.31ZM8.53 -5.21L12.98 -9.45A1.30 1.30 0 0 1 14.33 -7.23ZM9.73 -2.32L15.26 -4.98A1.30 1.30 0 0 1 15.86 -2.45Z" fill="#1ea7e8"/>
<path d="M5.44 1.32L8.63 1.34A0.72 0.72 0 0 1 8.29 2.74ZM4.77 2.93L7.79 3.94A0.72 0.72 0 0 1 7.03 5.17ZM3.63 4.26L6.19 6.16A0.72 0.72 0 0 1 5.09 7.09ZM2.14 5.18L3.98 7.77A0.72 0.72 0 0 1 2.65 8.32ZM0.43 5.58L1.39 8.62A0.72 0.72 0 0 1 -0.05 8.73ZM-1.32 5.44L-1.34 8.63A0.72 0.72 0 0 1 -2.74 8.29ZM-2.93 4.77L-3.94 7.79A0.72 0.72 0 0 1 -5.17 7.03ZM-4.26 3.63L-6.16 6.19A0.72 0.72 0 0 1 -7.09 5.09ZM-5.18 2.14L-7.77 3.98A0.72 0.72 0 0 1 -8.32 2.65ZM-5.58 0.43L-8.62 1.39A0.72 0.72 0 0 1 -8.73 -0.05ZM-5.44 -1.32L-8.63 -1.34A0.72 0.72 0 0 1 -8.29 -2.74ZM-4.77 -2.93L-7.79 -3.94A0.72 0.72 0 0 1 -7.03 -5.17ZM-3.63 -4.26L-6.19 -6.16A0.72 0.72 0 0 1 -5.09 -7.09ZM-2.14 -5.18L-3.98 -7.77A0.72 0.72 0 0 1 -2.65 -8.32ZM-0.43 -5.58L-1.39 -8.62A0.72 0.72 0 0 1 0.05 -8.73ZM1.32 -5.44L1.34 -8.63A0.72 0.72 0 0 1 2.74 -8.29ZM2.93 -4.77L3.94 -7.79A0.72 0.72 0 0 1 5.17 -7.03ZM4.26 -3.63L6.16 -6.19A0.72 0.72 0 0 1 7.09 -5.09ZM5.18 -2.14L7.77 -3.98A0.72 0.72 0 0 1 8.32 -2.65ZM5.58 -0.43L8.62 -1.39A0.72 0.72 0 0 1 8.73 0.05Z" fill="#1ea7e8"/>
<rect x="-3.6" y="-1.4" width="7.2" height="2.8" fill="#1ea7e8" transform="rotate(50)"/>
</g>
<g transform="translate(509.0 455.0)">
<circle r="18.3" fill="#fff"/>
<path d="M9.97 0.80L16.05 -0.02A1.30 1.30 0 0 1 15.84 2.57ZM9.23 3.84L15.27 4.94A1.30 1.30 0 0 1 14.27 7.34ZM7.59 6.51L13.00 9.42A1.30 1.30 0 0 1 11.31 11.40ZM5.21 8.53L9.45 12.98A1.30 1.30 0 0 1 7.23 14.33ZM2.32 9.73L4.98 15.26A1.30 1.30 0 0 1 2.45 15.86ZM-0.80 9.97L0.02 16.05A1.30 1.30 0 0 1 -2.57 15.84ZM-3.84 9.23L-4.94 15.27A1.30 1.30 0 0 1 -7.34 14.27ZM-6.51 7.59L-9.42 13.00A1.30 1.30 0 0 1 -11.40 11.31ZM-8.53 5.21L-12.98 9.45A1.30 1.30 0 0 1 -14.33 7.23ZM-9.73 2.32L-15.26 4.98A1.30 1.30 0 0 1 -15.86 2.45ZM-9.97 -0.80L-16.05 0.02A1.30 1.30 0 0 1 -15.84 -2.57ZM-9.23 -3.84L-15.27 -4.94A1.30 1.30 0 0 1 -14.27 -7.34ZM-7.59 -6.51L-13.00 -9.42A1.30 1.30 0 0 1 -11.31 -11.40ZM-5.21 -8.53L-9.45 -12.98A1.30 1.30 0 0 1 -7.23 -14.33ZM-2.32 -9.73L-4.98 -15.26A1.30 1.30 0 0 1 -2.45 -15.86ZM0.80 -9.97L-0.02 -16.05A1.30 1.30 0 0 1 2.57 -15.84ZM3.84 -9.23L4.94 -15.27A1.30 1.30 0 0 1 7.34 -14.27ZM6.51 -7.59L9.42 -13.00A1.30 1.30 0 0 1 11.40 -11.31ZM8.53 -5.21L12.98 -9.45A1.30 1.30 0 0 1 14.33 -7.23ZM9.73 -2.32L15.26 -4.98A1.30 1.30 0 0 1 15.86 -2.45Z" fill="#1ea7e8"/>
<path d="M5.44 1.32L8.63 1.34A0.72 0.72 0 0 1 8.29 2.74ZM4.77 2.93L7.79 3.94A0.72 0.72 0 0 1 7.03 5.17ZM3.63 4.26L6.19 6.16A0.72 0.72 0 0 1 5.09 7.09ZM2.14 5.18L3.98 7.77A0.72 0.72 0 0 1 2.65 8.32ZM0.43 5.58L1.39 8.62A0.72 0.72 0 0 1 -0.05 8.73ZM-1.32 5.44L-1.34 8.63A0.72 0.72 0 0 1 -2.74 8.29ZM-2.93 4.77L-3.94 7.79A0.72 0.72 0 0 1 -5.17 7.03ZM-4.26 3.63L-6.16 6.19A0.72 0.72 0 0 1 -7.09 5.09ZM-5.18 2.14L-7.77 3.98A0.72 0.72 0 0 1 -8.32 2.65ZM-5.58 0.43L-8.62 1.39A0.72 0.72 0 0 1 -8.73 -0.05ZM-5.44 -1.32L-8.63 -1.34A0.72 0.72 0 0 1 -8.29 -2.74ZM-4.77 -2.93L-7.79 -3.94A0.72 0.72 0 0 1 -7.03 -5.17ZM-3.63 -4.26L-6.19 -6.16A0.72 0.72 0 0 1 -5.09 -7.09ZM-2.14 -5.18L-3.98 -7.77A0.72 0.72 0 0 1 -2.65 -8.32ZM-0.43 -5.58L-1.39 -8.62A0.72 0.72 0 0 1 0.05 -8.73ZM1.32 -5.44L1.34 -8.63A0.72 0.72 0 0 1 2.74 -8.29ZM2.93 -4.77L3.94 -7.79A0.72 0.72 0 0 1 5.17 -7.03ZM4.26 -3.63L6.16 -6.19A0.72 0.72 0 0 1 7.09 -5.09ZM5.18 -2.14L7.77 -3.98A0.72 0.72 0 0 1 8.32 -2.65ZM5.58 -0.43L8.62 -1.39A0.72 0.72 0 0 1 8.73 0.05Z" fill="#1ea7e8"/>
</g>
<path d="M507.3 451.2v7.6M510.6 451.2v7.6" stroke="#1ea7e8" stroke-width="1.7"/>
<path d="M538.4 381.2Q533.5 384.4 536.7 389.2Q531.1 390.8 532.6 396.3Q526.8 396.1 526.5 401.8Q521.1 399.8 519.0 405.2Q514.5 401.6 510.9 406.1Q507.7 401.2 502.9 404.4Q501.3 398.8 495.8 400.3Q496.0 394.5 490.3 394.2Q492.3 388.8 486.9 386.7Q490.5 382.2 486.0 378.6Q490.9 375.4 487.7 370.6Q493.3 369.0 491.8 363.5Q497.6 363.7 497.9 358.0Q503.3 360.0 505.4 354.6Q509.9 358.2 513.5 353.7Q516.7 358.6 521.5 355.4Q523.1 361.0 528.6 359.5Q528.4 365.3 534.1 365.6Q532.1 371.0 537.5 373.1Q533.9 377.6 538.4 381.2Z" fill="#e8750f" stroke="#e8750f" stroke-width="0.6" stroke-linejoin="round"/>
<text x="493.91" y="378.96" font-size="19.14" font-weight="700" fill="#fff" stroke="#fff" stroke-width="0.90" stroke-linejoin="round" textLength="33.99" lengthAdjust="spacingAndGlyphs">Let&#39;s</text>
<text x="497.88" y="392.42" font-size="15.87" font-weight="700" fill="#fff" stroke="#fff" stroke-width="0.90" stroke-linejoin="round" textLength="17.47" lengthAdjust="spacingAndGlyphs">go</text>
<text x="514.91" y="395.85" font-size="19.42" font-weight="700" fill="#fff" stroke="#fff" stroke-width="0.5" textLength="11.38" lengthAdjust="spacingAndGlyphs">!!</text>
<g transform="translate(100.2 232.9)">
<rect x="0.5" y="0.5" width="77" height="30" fill="#fff" stroke="#55bcef" stroke-width="1"/>
<text transform="translate(5.44 13.21) skewX(-8)" font-size="11.94" font-weight="700" fill="#1ea7e8" stroke="#1ea7e8" stroke-width="0.90" stroke-linejoin="round" textLength="10.80" lengthAdjust="spacingAndGlyphs">ス</text>
<text transform="translate(15.75 13.68) skewX(-8)" font-size="6.05" font-weight="700" fill="#1ea7e8" stroke="#1ea7e8" stroke-width="0.55" stroke-linejoin="round" textLength="39.40" lengthAdjust="spacingAndGlyphs">プラッシュ</text>
<text transform="translate(27.56 24.27) skewX(-8)" font-size="7.71" font-weight="700" fill="#1ea7e8" stroke="#1ea7e8" stroke-width="0.55" stroke-linejoin="round" textLength="32.12" lengthAdjust="spacingAndGlyphs">ポイント</text>
<text x="61.38" y="25.72" font-size="27.61" font-weight="700" fill="#1ea7e8" stroke="#1ea7e8" stroke-width="1.80" stroke-linejoin="round" textLength="11.68" lengthAdjust="spacingAndGlyphs">3</text>
</g>
<g transform="translate(100.4 337.4)">
<rect x="0.5" y="0.5" width="77" height="30" fill="#fff" stroke="#55bcef" stroke-width="1"/>
<text transform="translate(5.44 13.21) skewX(-8)" font-size="11.94" font-weight="700" fill="#1ea7e8" stroke="#1ea7e8" stroke-width="0.90" stroke-linejoin="round" textLength="10.80" lengthAdjust="spacingAndGlyphs">ス</text>
<text transform="translate(15.75 13.68) skewX(-8)" font-size="6.05" font-weight="700" fill="#1ea7e8" stroke="#1ea7e8" stroke-width="0.55" stroke-linejoin="round" textLength="39.40" lengthAdjust="spacingAndGlyphs">プラッシュ</text>
<text transform="translate(27.56 24.27) skewX(-8)" font-size="7.71" font-weight="700" fill="#1ea7e8" stroke="#1ea7e8" stroke-width="0.55" stroke-linejoin="round" textLength="32.12" lengthAdjust="spacingAndGlyphs">ポイント</text>
<text x="61.40" y="26.00" font-size="28.41" font-weight="700" fill="#1ea7e8" stroke="#1ea7e8" stroke-width="1.80" stroke-linejoin="round" textLength="11.02" lengthAdjust="spacingAndGlyphs">4</text>
</g>
<g transform="translate(240.2 405.6)">
<rect x="0.5" y="0.5" width="77" height="30" fill="#fff" stroke="#55bcef" stroke-width="1"/>
<text transform="translate(5.44 13.21) skewX(-8)" font-size="11.94" font-weight="700" fill="#1ea7e8" stroke="#1ea7e8" stroke-width="0.90" stroke-linejoin="round" textLength="10.80" lengthAdjust="spacingAndGlyphs">ス</text>
<text transform="translate(15.75 13.68) skewX(-8)" font-size="6.05" font-weight="700" fill="#1ea7e8" stroke="#1ea7e8" stroke-width="0.55" stroke-linejoin="round" textLength="39.40" lengthAdjust="spacingAndGlyphs">プラッシュ</text>
<text transform="translate(27.56 24.27) skewX(-8)" font-size="7.71" font-weight="700" fill="#1ea7e8" stroke="#1ea7e8" stroke-width="0.55" stroke-linejoin="round" textLength="32.12" lengthAdjust="spacingAndGlyphs">ポイント</text>
<text x="61.16" y="26.00" font-size="28.00" font-weight="700" fill="#1ea7e8" stroke="#1ea7e8" stroke-width="1.80" stroke-linejoin="round" textLength="11.92" lengthAdjust="spacingAndGlyphs">2</text>
</g>
<g transform="translate(550.9 306.6)">
<rect x="0.5" y="0.5" width="77" height="30" fill="#fff" stroke="#55bcef" stroke-width="1"/>
<text transform="translate(5.44 13.21) skewX(-8)" font-size="11.94" font-weight="700" fill="#1ea7e8" stroke="#1ea7e8" stroke-width="0.90" stroke-linejoin="round" textLength="10.80" lengthAdjust="spacingAndGlyphs">ス</text>
<text transform="translate(15.75 13.68) skewX(-8)" font-size="6.05" font-weight="700" fill="#1ea7e8" stroke="#1ea7e8" stroke-width="0.55" stroke-linejoin="round" textLength="39.40" lengthAdjust="spacingAndGlyphs">プラッシュ</text>
<text transform="translate(27.56 24.27) skewX(-8)" font-size="7.71" font-weight="700" fill="#1ea7e8" stroke="#1ea7e8" stroke-width="0.55" stroke-linejoin="round" textLength="32.12" lengthAdjust="spacingAndGlyphs">ポイント</text>
<text x="61.17" y="25.72" font-size="28.00" font-weight="700" fill="#1ea7e8" stroke="#1ea7e8" stroke-width="1.80" stroke-linejoin="round" textLength="11.68" lengthAdjust="spacingAndGlyphs">5</text>
</g>
<g transform="translate(570.3 411.3)">
<rect x="0.5" y="0.5" width="77" height="30" fill="#fff" stroke="#55bcef" stroke-width="1"/>
<text transform="translate(5.44 13.21) skewX(-8)" font-size="11.94" font-weight="700" fill="#1ea7e8" stroke="#1ea7e8" stroke-width="0.90" stroke-linejoin="round" textLength="10.80" lengthAdjust="spacingAndGlyphs">ス</text>
<text transform="translate(15.75 13.68) skewX(-8)" font-size="6.05" font-weight="700" fill="#1ea7e8" stroke="#1ea7e8" stroke-width="0.55" stroke-linejoin="round" textLength="39.40" lengthAdjust="spacingAndGlyphs">プラッシュ</text>
<text transform="translate(27.56 24.27) skewX(-8)" font-size="7.71" font-weight="700" fill="#1ea7e8" stroke="#1ea7e8" stroke-width="0.55" stroke-linejoin="round" textLength="32.12" lengthAdjust="spacingAndGlyphs">ポイント</text>
<text x="60.46" y="26.00" font-size="28.41" font-weight="700" fill="#1ea7e8" stroke="#1ea7e8" stroke-width="1.80" stroke-linejoin="round" textLength="12.43" lengthAdjust="spacingAndGlyphs">1</text>
</g>
<g fill="#231815"><circle cx="184.8" cy="249.2" r="1.6"/><circle cx="190.1" cy="250.1" r="1.6"/><circle cx="195.3" cy="251.0" r="1.6"/><circle cx="200.6" cy="251.9" r="1.6"/><circle cx="205.8" cy="252.8" r="1.6"/><circle cx="211.1" cy="253.7" r="1.6"/><circle cx="216.3" cy="254.5" r="1.6"/><circle cx="221.6" cy="255.4" r="1.6"/><circle cx="226.8" cy="256.3" r="1.6"/><circle cx="232.1" cy="257.2" r="1.6"/><circle cx="237.3" cy="258.1" r="1.6"/><circle cx="242.6" cy="259.0" r="1.6"/></g>
<g fill="#231815"><circle cx="186.5" cy="349.8" r="1.6"/><circle cx="191.9" cy="347.1" r="1.6"/><circle cx="197.3" cy="344.5" r="1.6"/><circle cx="202.8" cy="341.8" r="1.6"/><circle cx="208.2" cy="339.2" r="1.6"/><circle cx="213.6" cy="336.5" r="1.6"/></g>
<g fill="#231815"><circle cx="326.0" cy="418.6" r="1.6"/><circle cx="331.2" cy="418.4" r="1.6"/><circle cx="336.5" cy="418.1" r="1.6"/><circle cx="341.7" cy="417.9" r="1.6"/><circle cx="347.0" cy="417.6" r="1.6"/><circle cx="352.2" cy="417.4" r="1.6"/><circle cx="357.4" cy="417.2" r="1.6"/><circle cx="362.7" cy="416.9" r="1.6"/><circle cx="367.9" cy="416.7" r="1.6"/><circle cx="373.1" cy="416.5" r="1.6"/><circle cx="378.4" cy="416.2" r="1.6"/><circle cx="383.6" cy="416.0" r="1.6"/><circle cx="388.9" cy="415.7" r="1.6"/><circle cx="394.1" cy="415.5" r="1.6"/></g>
<g fill="#231815"><circle cx="534.6" cy="320.5" r="1.6"/><circle cx="539.9" cy="320.5" r="1.6"/><circle cx="545.2" cy="320.5" r="1.6"/></g>
<g transform="translate(250.2 254.5)"><path d="M0.0 0.0C-0.2 1.0 -0.9 3.9 -1.4 6.0C-1.9 8.1 -2.6 11.3 -2.9 12.4 L-2.9 12.4C-1.7 12.7 2.0 13.3 4.4 13.9C6.8 14.5 9.8 15.5 11.7 16.0C13.6 16.5 14.6 16.8 16.0 16.9C17.4 17.0 19.2 16.9 20.4 16.5C21.6 16.1 22.2 15.5 23.0 14.8C23.8 14.1 24.4 13.2 24.9 12.4C25.4 11.6 25.8 10.8 25.9 9.9C26.0 9.0 25.7 7.5 25.6 7.0 L25.6 7.0C26.7 7.0 29.9 7.3 32.1 7.3C34.3 7.3 37.3 7.2 38.7 6.9C40.1 6.7 40.2 6.2 40.3 5.8C40.4 5.4 39.4 4.8 39.2 4.6 L39.2 4.6C38.3 4.4 35.8 3.8 33.6 3.3C31.5 2.8 28.7 2.2 26.3 1.8C23.9 1.4 21.4 1.2 19.0 1.1C16.6 1.0 14.1 1.0 11.7 1.1C9.3 1.2 6.1 1.6 4.4 1.6C2.7 1.6 2.2 1.5 1.5 1.2C0.8 0.9 0.2 0.2 0.0 0.0Z" fill="#fff" stroke="#231815" stroke-width="0.80" stroke-linejoin="round"/><path d="M5.8 8.9C6.5 8.9 8.7 8.8 10.0 8.7C11.3 8.6 12.8 8.6 13.9 8.4C15.0 8.2 16.1 7.5 16.8 7.6C17.5 7.7 17.7 8.6 17.9 8.8 M13.9 2.8C14.8 3.1 17.7 3.7 19.0 4.4C20.3 5.2 21.3 6.3 21.9 7.3C22.4 8.3 22.6 9.3 22.3 10.2C22.1 11.0 20.7 12.0 20.4 12.4 M17.9 8.8C18.1 9.2 18.3 10.7 19.0 11.3C19.7 11.9 21.0 12.3 21.9 12.4C22.8 12.5 24.2 11.9 24.6 11.8 M13.9 11.7C14.1 12.1 14.5 13.3 15.3 13.9C16.2 14.5 17.8 14.9 19.0 15.0C20.2 15.1 21.8 14.3 22.4 14.2 M12.4 13.1C12.5 13.5 12.6 14.7 13.1 15.3C13.6 15.9 15.2 16.4 15.6 16.6" fill="none" stroke="#231815" stroke-width="0.70" stroke-linecap="round"/></g>
<g transform="translate(218.6 328.6) rotate(-23.0) scale(0.870)"><path d="M0.0 0.0C-0.2 1.0 -0.9 3.9 -1.4 6.0C-1.9 8.1 -2.6 11.3 -2.9 12.4 L-2.9 12.4C-1.7 12.7 2.0 13.3 4.4 13.9C6.8 14.5 9.8 15.5 11.7 16.0C13.6 16.5 14.6 16.8 16.0 16.9C17.4 17.0 19.2 16.9 20.4 16.5C21.6 16.1 22.2 15.5 23.0 14.8C23.8 14.1 24.4 13.2 24.9 12.4C25.4 11.6 25.8 10.8 25.9 9.9C26.0 9.0 25.7 7.5 25.6 7.0 L25.6 7.0C26.7 7.0 29.9 7.3 32.1 7.3C34.3 7.3 37.3 7.2 38.7 6.9C40.1 6.7 40.2 6.2 40.3 5.8C40.4 5.4 39.4 4.8 39.2 4.6 L39.2 4.6C38.3 4.4 35.8 3.8 33.6 3.3C31.5 2.8 28.7 2.2 26.3 1.8C23.9 1.4 21.4 1.2 19.0 1.1C16.6 1.0 14.1 1.0 11.7 1.1C9.3 1.2 6.1 1.6 4.4 1.6C2.7 1.6 2.2 1.5 1.5 1.2C0.8 0.9 0.2 0.2 0.0 0.0Z" fill="#fff" stroke="#231815" stroke-width="0.92" stroke-linejoin="round"/><path d="M5.8 8.9C6.5 8.9 8.7 8.8 10.0 8.7C11.3 8.6 12.8 8.6 13.9 8.4C15.0 8.2 16.1 7.5 16.8 7.6C17.5 7.7 17.7 8.6 17.9 8.8 M13.9 2.8C14.8 3.1 17.7 3.7 19.0 4.4C20.3 5.2 21.3 6.3 21.9 7.3C22.4 8.3 22.6 9.3 22.3 10.2C22.1 11.0 20.7 12.0 20.4 12.4 M17.9 8.8C18.1 9.2 18.3 10.7 19.0 11.3C19.7 11.9 21.0 12.3 21.9 12.4C22.8 12.5 24.2 11.9 24.6 11.8 M13.9 11.7C14.1 12.1 14.5 13.3 15.3 13.9C16.2 14.5 17.8 14.9 19.0 15.0C20.2 15.1 21.8 14.3 22.4 14.2 M12.4 13.1C12.5 13.5 12.6 14.7 13.1 15.3C13.6 15.9 15.2 16.4 15.6 16.6" fill="none" stroke="#231815" stroke-width="0.80" stroke-linecap="round"/></g>
<g transform="translate(398.2 409.5) rotate(-23.0) scale(0.850)"><path d="M0.0 0.0C-0.2 1.0 -0.9 3.9 -1.4 6.0C-1.9 8.1 -2.6 11.3 -2.9 12.4 L-2.9 12.4C-1.7 12.7 2.0 13.3 4.4 13.9C6.8 14.5 9.8 15.5 11.7 16.0C13.6 16.5 14.6 16.8 16.0 16.9C17.4 17.0 19.2 16.9 20.4 16.5C21.6 16.1 22.2 15.5 23.0 14.8C23.8 14.1 24.4 13.2 24.9 12.4C25.4 11.6 25.8 10.8 25.9 9.9C26.0 9.0 25.7 7.5 25.6 7.0 L25.6 7.0C26.7 7.0 29.9 7.3 32.1 7.3C34.3 7.3 37.3 7.2 38.7 6.9C40.1 6.7 40.2 6.2 40.3 5.8C40.4 5.4 39.4 4.8 39.2 4.6 L39.2 4.6C38.3 4.4 35.8 3.8 33.6 3.3C31.5 2.8 28.7 2.2 26.3 1.8C23.9 1.4 21.4 1.2 19.0 1.1C16.6 1.0 14.1 1.0 11.7 1.1C9.3 1.2 6.1 1.6 4.4 1.6C2.7 1.6 2.2 1.5 1.5 1.2C0.8 0.9 0.2 0.2 0.0 0.0Z" fill="#fff" stroke="#231815" stroke-width="0.94" stroke-linejoin="round"/><path d="M5.8 8.9C6.5 8.9 8.7 8.8 10.0 8.7C11.3 8.6 12.8 8.6 13.9 8.4C15.0 8.2 16.1 7.5 16.8 7.6C17.5 7.7 17.7 8.6 17.9 8.8 M13.9 2.8C14.8 3.1 17.7 3.7 19.0 4.4C20.3 5.2 21.3 6.3 21.9 7.3C22.4 8.3 22.6 9.3 22.3 10.2C22.1 11.0 20.7 12.0 20.4 12.4 M17.9 8.8C18.1 9.2 18.3 10.7 19.0 11.3C19.7 11.9 21.0 12.3 21.9 12.4C22.8 12.5 24.2 11.9 24.6 11.8 M13.9 11.7C14.1 12.1 14.5 13.3 15.3 13.9C16.2 14.5 17.8 14.9 19.0 15.0C20.2 15.1 21.8 14.3 22.4 14.2 M12.4 13.1C12.5 13.5 12.6 14.7 13.1 15.3C13.6 15.9 15.2 16.4 15.6 16.6" fill="none" stroke="#231815" stroke-width="0.82" stroke-linecap="round"/></g>
<g transform="translate(529.6 314.3) scale(-1 1) rotate(-5.0) scale(0.860)"><path d="M0.0 0.0C-0.2 1.0 -0.9 3.9 -1.4 6.0C-1.9 8.1 -2.6 11.3 -2.9 12.4 L-2.9 12.4C-1.7 12.7 2.0 13.3 4.4 13.9C6.8 14.5 9.8 15.5 11.7 16.0C13.6 16.5 14.6 16.8 16.0 16.9C17.4 17.0 19.2 16.9 20.4 16.5C21.6 16.1 22.2 15.5 23.0 14.8C23.8 14.1 24.4 13.2 24.9 12.4C25.4 11.6 25.8 10.8 25.9 9.9C26.0 9.0 25.7 7.5 25.6 7.0 L25.6 7.0C26.7 7.0 29.9 7.3 32.1 7.3C34.3 7.3 37.3 7.2 38.7 6.9C40.1 6.7 40.2 6.2 40.3 5.8C40.4 5.4 39.4 4.8 39.2 4.6 L39.2 4.6C38.3 4.4 35.8 3.8 33.6 3.3C31.5 2.8 28.7 2.2 26.3 1.8C23.9 1.4 21.4 1.2 19.0 1.1C16.6 1.0 14.1 1.0 11.7 1.1C9.3 1.2 6.1 1.6 4.4 1.6C2.7 1.6 2.2 1.5 1.5 1.2C0.8 0.9 0.2 0.2 0.0 0.0Z" fill="#fff" stroke="#231815" stroke-width="0.93" stroke-linejoin="round"/><path d="M5.8 8.9C6.5 8.9 8.7 8.8 10.0 8.7C11.3 8.6 12.8 8.6 13.9 8.4C15.0 8.2 16.1 7.5 16.8 7.6C17.5 7.7 17.7 8.6 17.9 8.8 M13.9 2.8C14.8 3.1 17.7 3.7 19.0 4.4C20.3 5.2 21.3 6.3 21.9 7.3C22.4 8.3 22.6 9.3 22.3 10.2C22.1 11.0 20.7 12.0 20.4 12.4 M17.9 8.8C18.1 9.2 18.3 10.7 19.0 11.3C19.7 11.9 21.0 12.3 21.9 12.4C22.8 12.5 24.2 11.9 24.6 11.8 M13.9 11.7C14.1 12.1 14.5 13.3 15.3 13.9C16.2 14.5 17.8 14.9 19.0 15.0C20.2 15.1 21.8 14.3 22.4 14.2 M12.4 13.1C12.5 13.5 12.6 14.7 13.1 15.3C13.6 15.9 15.2 16.4 15.6 16.6" fill="none" stroke="#231815" stroke-width="0.81" stroke-linecap="round"/></g>
<g transform="translate(580.6 374.5) scale(-1 1) rotate(-5.0) scale(0.820)"><path d="M0.0 0.0C-0.2 1.0 -0.9 3.9 -1.4 6.0C-1.9 8.1 -2.6 11.3 -2.9 12.4 L-2.9 12.4C-1.7 12.7 2.0 13.3 4.4 13.9C6.8 14.5 9.8 15.5 11.7 16.0C13.6 16.5 14.6 16.8 16.0 16.9C17.4 17.0 19.2 16.9 20.4 16.5C21.6 16.1 22.2 15.5 23.0 14.8C23.8 14.1 24.4 13.2 24.9 12.4C25.4 11.6 25.8 10.8 25.9 9.9C26.0 9.0 25.7 7.5 25.6 7.0 L25.6 7.0C26.7 7.0 29.9 7.3 32.1 7.3C34.3 7.3 37.3 7.2 38.7 6.9C40.1 6.7 40.2 6.2 40.3 5.8C40.4 5.4 39.4 4.8 39.2 4.6 L39.2 4.6C38.3 4.4 35.8 3.8 33.6 3.3C31.5 2.8 28.7 2.2 26.3 1.8C23.9 1.4 21.4 1.2 19.0 1.1C16.6 1.0 14.1 1.0 11.7 1.1C9.3 1.2 6.1 1.6 4.4 1.6C2.7 1.6 2.2 1.5 1.5 1.2C0.8 0.9 0.2 0.2 0.0 0.0Z" fill="#fff" stroke="#231815" stroke-width="0.98" stroke-linejoin="round"/><path d="M5.8 8.9C6.5 8.9 8.7 8.8 10.0 8.7C11.3 8.6 12.8 8.6 13.9 8.4C15.0 8.2 16.1 7.5 16.8 7.6C17.5 7.7 17.7 8.6 17.9 8.8 M13.9 2.8C14.8 3.1 17.7 3.7 19.0 4.4C20.3 5.2 21.3 6.3 21.9 7.3C22.4 8.3 22.6 9.3 22.3 10.2C22.1 11.0 20.7 12.0 20.4 12.4 M17.9 8.8C18.1 9.2 18.3 10.7 19.0 11.3C19.7 11.9 21.0 12.3 21.9 12.4C22.8 12.5 24.2 11.9 24.6 11.8 M13.9 11.7C14.1 12.1 14.5 13.3 15.3 13.9C16.2 14.5 17.8 14.9 19.0 15.0C20.2 15.1 21.8 14.3 22.4 14.2 M12.4 13.1C12.5 13.5 12.6 14.7 13.1 15.3C13.6 15.9 15.2 16.4 15.6 16.6" fill="none" stroke="#231815" stroke-width="0.85" stroke-linecap="round"/></g>
<g transform="translate(560.5 432.7) scale(-1 1) rotate(23.0) scale(0.840)"><path d="M0.0 0.0C-0.2 1.0 -0.9 3.9 -1.4 6.0C-1.9 8.1 -2.6 11.3 -2.9 12.4 L-2.9 12.4C-1.7 12.7 2.0 13.3 4.4 13.9C6.8 14.5 9.8 15.5 11.7 16.0C13.6 16.5 14.6 16.8 16.0 16.9C17.4 17.0 19.2 16.9 20.4 16.5C21.6 16.1 22.2 15.5 23.0 14.8C23.8 14.1 24.4 13.2 24.9 12.4C25.4 11.6 25.8 10.8 25.9 9.9C26.0 9.0 25.7 7.5 25.6 7.0 L25.6 7.0C26.7 7.0 29.9 7.3 32.1 7.3C34.3 7.3 37.3 7.2 38.7 6.9C40.1 6.7 40.2 6.2 40.3 5.8C40.4 5.4 39.4 4.8 39.2 4.6 L39.2 4.6C38.3 4.4 35.8 3.8 33.6 3.3C31.5 2.8 28.7 2.2 26.3 1.8C23.9 1.4 21.4 1.2 19.0 1.1C16.6 1.0 14.1 1.0 11.7 1.1C9.3 1.2 6.1 1.6 4.4 1.6C2.7 1.6 2.2 1.5 1.5 1.2C0.8 0.9 0.2 0.2 0.0 0.0Z" fill="#fff" stroke="#231815" stroke-width="0.95" stroke-linejoin="round"/><path d="M5.8 8.9C6.5 8.9 8.7 8.8 10.0 8.7C11.3 8.6 12.8 8.6 13.9 8.4C15.0 8.2 16.1 7.5 16.8 7.6C17.5 7.7 17.7 8.6 17.9 8.8 M13.9 2.8C14.8 3.1 17.7 3.7 19.0 4.4C20.3 5.2 21.3 6.3 21.9 7.3C22.4 8.3 22.6 9.3 22.3 10.2C22.1 11.0 20.7 12.0 20.4 12.4 M17.9 8.8C18.1 9.2 18.3 10.7 19.0 11.3C19.7 11.9 21.0 12.3 21.9 12.4C22.8 12.5 24.2 11.9 24.6 11.8 M13.9 11.7C14.1 12.1 14.5 13.3 15.3 13.9C16.2 14.5 17.8 14.9 19.0 15.0C20.2 15.1 21.8 14.3 22.4 14.2 M12.4 13.1C12.5 13.5 12.6 14.7 13.1 15.3C13.6 15.9 15.2 16.4 15.6 16.6" fill="none" stroke="#231815" stroke-width="0.83" stroke-linecap="round"/></g>
<text x="338.0" y="45.0" font-size="17.0" font-weight="700" fill="#1b9fe3" textLength="153.6" lengthAdjust="spacingAndGlyphs" stroke="#1b9fe3" stroke-width="1.00" stroke-linejoin="round" >バンデット走路図</text>
<text x="95.7" y="80.6" font-size="16.7" font-weight="700" fill="#e60012" textLength="300.5" lengthAdjust="spacingAndGlyphs" stroke="#e60012" stroke-width="0.75" stroke-linejoin="round" >絶叫コースターで暑さを吹き飛ばせ！</text>
<text x="202.9" y="160.2" font-size="11.7" font-weight="700" fill="#231815" textLength="27.2" lengthAdjust="spacingAndGlyphs" stroke="#231815" stroke-width="0.75" stroke-linejoin="round" >絶叫</text>
<text x="230.2" y="160.1" font-size="8.2" font-weight="700" fill="#231815" textLength="74.2" lengthAdjust="spacingAndGlyphs" stroke="#231815" stroke-width="0.45" stroke-linejoin="round" >を呼ぶ急カーブ！</text>
<text x="490.2" y="117.1" font-size="8.9" font-weight="700" fill="#231815" textLength="49.2" lengthAdjust="spacingAndGlyphs" stroke="#231815" stroke-width="0.45" stroke-linejoin="round" >森の中でも</text>
<text x="539.0" y="116.7" font-size="11.5" font-weight="700" fill="#231815" textLength="53.6" lengthAdjust="spacingAndGlyphs" stroke="#231815" stroke-width="0.75" stroke-linejoin="round" >大絶叫！</text>
<text x="415.7" y="185.8" font-size="7.9" font-weight="700" fill="#231815" textLength="66.4" lengthAdjust="spacingAndGlyphs" stroke="#231815" stroke-width="0.45" stroke-linejoin="round" >アップダウンが</text>
<text x="416.6" y="196.6" font-size="8.3" font-weight="700" fill="#231815" textLength="54.3" lengthAdjust="spacingAndGlyphs" stroke="#231815" stroke-width="0.45" stroke-linejoin="round" >気持ちイイ！</text>
<text x="425.9" y="271.2" font-size="10.7" font-weight="700" fill="#231815" textLength="26.9" lengthAdjust="spacingAndGlyphs" stroke="#231815" stroke-width="0.75" stroke-linejoin="round" >絶叫</text>
<text x="452.7" y="271.9" font-size="8.5" font-weight="700" fill="#231815" textLength="19.5" lengthAdjust="spacingAndGlyphs" stroke="#231815" stroke-width="0.45" stroke-linejoin="round" >への</text>
<text x="425.5" y="284.1" font-size="6.2" font-weight="700" fill="#231815" textLength="28.4" lengthAdjust="spacingAndGlyphs" stroke="#231815" stroke-width="0.45" stroke-linejoin="round" >上昇…</text>
<text x="100.4" y="276.6" font-size="7.7" font-weight="700" fill="#231815" textLength="20.1" lengthAdjust="spacingAndGlyphs" stroke="#231815" stroke-width="0.45" stroke-linejoin="round" >高さ</text>
<text x="119.2" y="277.3" font-size="9.4" font-weight="700" fill="#231815" textLength="22.1" lengthAdjust="spacingAndGlyphs" stroke="#231815" stroke-width="0.45" stroke-linejoin="round" >51m</text>
<text x="141.8" y="276.5" font-size="7.8" font-weight="700" fill="#231815" textLength="62.8" lengthAdjust="spacingAndGlyphs" stroke="#231815" stroke-width="0.45" stroke-linejoin="round" >からの落下中に</text>
<text x="101.2" y="289.3" font-size="10.6" font-weight="700" fill="#231815" textLength="27.7" lengthAdjust="spacingAndGlyphs" stroke="#231815" stroke-width="0.75" stroke-linejoin="round" >絶叫</text>
<text x="128.8" y="289.5" font-size="6.6" font-weight="700" fill="#231815" textLength="53.4" lengthAdjust="spacingAndGlyphs" stroke="#231815" stroke-width="0.45" stroke-linejoin="round" >間違いなしの</text>
<text x="101.1" y="302.6" font-size="10.2" font-weight="700" fill="#231815" textLength="116.7" lengthAdjust="spacingAndGlyphs" stroke="#231815" stroke-width="0.75" stroke-linejoin="round" >特大スプラッシュ！</text>
<text x="99.7" y="381.5" font-size="7.7" font-weight="700" fill="#231815" textLength="96.2" lengthAdjust="spacingAndGlyphs" stroke="#231815" stroke-width="0.45" stroke-linejoin="round" >ミストシャワーの壁を</text>
<text x="102.4" y="395.1" font-size="10.8" font-weight="700" fill="#231815" textLength="66.1" lengthAdjust="spacingAndGlyphs" stroke="#231815" stroke-width="0.75" stroke-linejoin="round" >打ち破れ！</text>
<text x="241.0" y="449.9" font-size="6.8" font-weight="700" fill="#231815" textLength="68.4" lengthAdjust="spacingAndGlyphs" stroke="#231815" stroke-width="0.45" stroke-linejoin="round" >のぼる手前でも</text>
<text x="240.7" y="463.0" font-size="10.4" font-weight="700" fill="#231815" textLength="86.4" lengthAdjust="spacingAndGlyphs" stroke="#231815" stroke-width="0.75" stroke-linejoin="round" >スプラッシュ!!</text>
<text x="637.0" y="320.5" font-size="7.0" font-weight="700" fill="#231815" textLength="38.4" lengthAdjust="spacingAndGlyphs" stroke="#231815" stroke-width="0.45" stroke-linejoin="round" >お迎えの</text>
<text x="676.7" y="319.7" font-size="10.5" font-weight="700" fill="#231815" textLength="25.5" lengthAdjust="spacingAndGlyphs" stroke="#231815" stroke-width="0.75" stroke-linejoin="round" >放水</text>
<text x="702.9" y="320.5" font-size="8.1" font-weight="700" fill="#231815" textLength="8.4" lengthAdjust="spacingAndGlyphs" stroke="#231815" stroke-width="0.45" stroke-linejoin="round" >で</text>
<text x="637.6" y="331.2" font-size="7.8" font-weight="700" fill="#231815" textLength="63.0" lengthAdjust="spacingAndGlyphs" stroke="#231815" stroke-width="0.45" stroke-linejoin="round" >クールダウン！</text>
<text x="586.9" y="382.7" font-size="12.2" font-weight="700" fill="#231815" textLength="77.0" lengthAdjust="spacingAndGlyphs" stroke="#231815" stroke-width="0.75" stroke-linejoin="round" >サマーソング</text>
<text x="665.2" y="383.5" font-size="9.0" font-weight="700" fill="#231815" textLength="8.1" lengthAdjust="spacingAndGlyphs" stroke="#231815" stroke-width="0.45" stroke-linejoin="round" >で</text>
<text x="586.6" y="396.6" font-size="13.0" font-weight="700" fill="#231815" textLength="64.4" lengthAdjust="spacingAndGlyphs" stroke="#231815" stroke-width="0.75" stroke-linejoin="round" >テンション</text>
<text x="651.2" y="396.8" font-size="7.9" font-weight="700" fill="#231815" textLength="64.5" lengthAdjust="spacingAndGlyphs" stroke="#231815" stroke-width="0.45" stroke-linejoin="round" >上げていこう！</text>
<text x="569.6" y="457.0" font-size="8.3" font-weight="700" fill="#231815" textLength="66.8" lengthAdjust="spacingAndGlyphs" stroke="#231815" stroke-width="0.45" stroke-linejoin="round" >スタート直後の</text>
<text x="636.7" y="456.7" font-size="11.2" font-weight="700" fill="#231815" textLength="89.1" lengthAdjust="spacingAndGlyphs" stroke="#231815" stroke-width="0.75" stroke-linejoin="round" >スプラッシュ！</text>
</svg></body></html>
